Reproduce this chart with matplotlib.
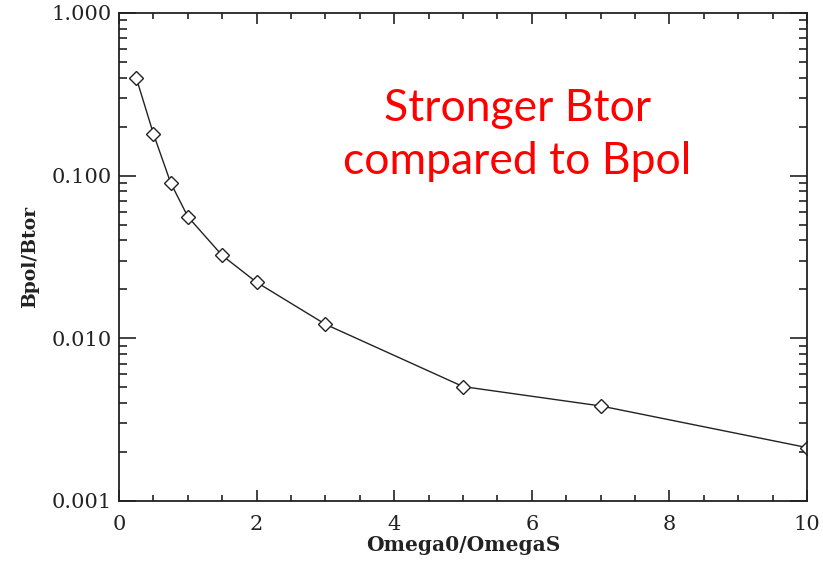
import matplotlib
matplotlib.use("Agg")
import matplotlib.pyplot as plt
from matplotlib.ticker import FixedLocator, FormatStrFormatter, MultipleLocator, LogLocator, NullFormatter

# Ratio of poloidal to toroidal field versus rotation rate
omega_ratio = [0.25, 0.5, 0.75, 1.0, 1.5, 2.0, 3.0, 5.0, 7.0, 10.0]
bpol_btor = [0.40, 0.181, 0.0905, 0.056, 0.0323, 0.0221, 0.0122, 0.00505, 0.00384, 0.00213]

y_ticks = [0.001, 0.01, 0.1, 1.0]
x_ticks = [0, 2, 4, 6, 8, 10]

annotation = "Stronger Btor\ncompared to Bpol"

fig = plt.figure(figsize=(8.23, 5.65), dpi=100)
ax = fig.add_axes([0.1446, 0.1133, 0.8360, 0.8637])

ax.plot(omega_ratio, bpol_btor, color="#222222", lw=1.0,
        marker="D", markersize=7, markerfacecolor="white",
        markeredgecolor="#222222", markeredgewidth=1.0)

ax.set_yscale("log")
ax.set_xlim(0, 10)
ax.set_ylim(0.001, 1.0)

ax.yaxis.set_major_locator(FixedLocator(y_ticks))
ax.yaxis.set_major_formatter(FormatStrFormatter("%.3f"))
ax.yaxis.set_minor_locator(LogLocator(base=10, subs=range(2, 10)))
ax.yaxis.set_minor_formatter(NullFormatter())
ax.xaxis.set_major_locator(FixedLocator(x_ticks))
ax.xaxis.set_major_formatter(FormatStrFormatter("%d"))
ax.xaxis.set_minor_locator(MultipleLocator(0.5))

for s in ax.spines.values():
    s.set_linewidth(1.3)
    s.set_color("#222222")

ax.tick_params(which="both", direction="in", top=True, right=True,
               color="#222222", width=1.2)
ax.tick_params(axis="y", which="major", length=12, pad=5)
ax.tick_params(axis="y", which="minor", length=6)
ax.tick_params(axis="x", which="major", length=8, pad=10)
ax.tick_params(axis="x", which="minor", length=4)

serif = "DejaVu Serif"
for lab in ax.get_xticklabels() + ax.get_yticklabels():
    lab.set_fontfamily(serif)
    lab.set_fontsize(15)
    lab.set_color("#222222")

ax.set_xlabel("Omega0/OmegaS", fontfamily=serif, fontsize=14.5,
              fontweight="bold", color="#222222", labelpad=1)
ax.set_ylabel("Bpol/Btor", fontfamily=serif, fontsize=13.5,
              fontweight="bold", color="#222222", labelpad=9)

ax.text(0.579, 0.75, annotation, transform=ax.transAxes, ha="center",
        va="center", color="#ff0000", fontsize=32, fontfamily="Lato",
        linespacing=1.35)

fig.savefig("out.png", dpi=100)
